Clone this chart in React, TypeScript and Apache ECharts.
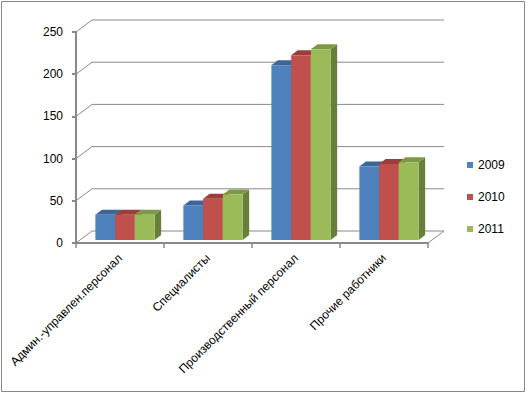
import React, { useEffect, useRef } from "react";
import * as echarts from "echarts";

const categories = [
  "Админ.-управлен.персонал",
  "Специалисты",
  "Производственный персонал",
  "Прочие работники",
];
const years = ["2009", "2010", "2011"];
const values2009 = [30, 41, 207, 87];
const values2010 = [30, 49, 219, 90];
const values2011 = [30, 54, 226, 92];
const yTicks = [0, 50, 100, 150, 200, 250];

const fronts = ["#4F81BD", "#C0504D", "#9BBB59"];
const tops = ["#3D6698", "#9A3E3C", "#7C9A45"];
const sides = ["#365A87", "#873634", "#677F38"];

const FONT = "'Liberation Sans', Arial, sans-serif";
const GRID_COLOR = "#898989";
const DEPTH_X = 16;
const DEPTH_Y = 12;

function makeBarRender(k: number) {
  return (params: any, api: any) => {
    const idx = api.value(0);
    const v = api.value(1);
    const c = api.coord([idx, v]);
    const c0 = api.coord([idx, 0]);
    const band = api.size([1, 0])[0];
    const w = band * 0.2245;
    const shift = band * 0.057;
    const x0 = c[0] + shift + (k - 1.5) * w;
    const x1 = x0 + w;
    const yt = c[1] - 3;
    const yb = c0[1] - 3;
    const dx = 6.5;
    const dy = 5;
    return {
      type: "group",
      children: [
        {
          type: "polygon",
          shape: { points: [[x1, yt], [x1 + dx, yt - dy], [x1 + dx, yb - dy], [x1, yb]] },
          style: { fill: sides[k] },
        },
        {
          type: "polygon",
          shape: { points: [[x0, yt], [x1, yt], [x1 + dx, yt - dy], [x0 + dx, yt - dy]] },
          style: { fill: tops[k] },
        },
        {
          type: "rect",
          shape: { x: x0, y: yt, width: w, height: yb - yt },
          style: { fill: fronts[k] },
        },
      ],
    };
  };
}

function wallRender(params: any, api: any) {
  const v = api.value(1);
  const cs = params.coordSys;
  const y = api.coord([0, v])[1];
  const children: any[] = [
    {
      type: "polyline",
      shape: {
        points: [
          [cs.x, y],
          [cs.x + DEPTH_X, y - DEPTH_Y],
          [cs.x + cs.width + DEPTH_X, y - DEPTH_Y],
        ],
      },
      style: { stroke: GRID_COLOR, lineWidth: 1, fill: null },
    },
  ];
  if (v === 0) {
    children.push({
      type: "line",
      shape: { x1: cs.x + cs.width, y1: y, x2: cs.x + cs.width + DEPTH_X, y2: y - DEPTH_Y },
      style: { stroke: GRID_COLOR, lineWidth: 1 },
    });
  }
  return { type: "group", children };
}

export default function App() {
  const ref = useRef<HTMLDivElement>(null);
  useEffect(() => {
    if (!ref.current) return;
    const chart = echarts.init(ref.current, null, { renderer: "svg" });
    const seriesValues = [values2009, values2010, values2011];
    chart.setOption({
      animation: false,
      backgroundColor: "#ffffff",
      textStyle: { fontFamily: FONT },
      graphic: [
        {
          type: "rect",
          shape: { x: 1.5, y: 1.5, width: 523, height: 390 },
          style: { fill: null, stroke: "#878787", lineWidth: 1 },
          z: 100,
        },
      ],
      grid: { left: 76, top: 32, width: 352, height: 211 },
      legend: {
        orient: "vertical",
        left: 462,
        top: 154,
        itemWidth: 6,
        itemHeight: 6,
        itemGap: 20,
        selectedMode: false,
        textStyle: { fontSize: 12, color: "#000", fontFamily: FONT },
        data: years.map((y) => ({ name: y, icon: "rect" })),
      },
      xAxis: {
        type: "category",
        data: categories,
        boundaryGap: true,
        axisLine: { lineStyle: { color: GRID_COLOR, width: 2 } },
        axisTick: { show: true, length: 5, lineStyle: { color: GRID_COLOR, width: 1.5 } },
        axisLabel: {
          interval: 0,
          rotate: 45,
          margin: 13,
          fontSize: 12,
          color: "#000",
          fontFamily: FONT,
        },
        splitLine: { show: false },
      },
      yAxis: {
        type: "value",
        min: 0,
        max: 250,
        interval: 50,
        axisLine: { show: true, lineStyle: { color: GRID_COLOR, width: 2 } },
        axisTick: { show: true, length: 4, lineStyle: { color: GRID_COLOR, width: 2 } },
        axisLabel: { margin: 13, fontSize: 12, color: "#000", fontFamily: FONT },
        splitLine: { show: false },
      },
      series: [
        {
          type: "custom",
          name: "wall",
          renderItem: wallRender,
          data: yTicks.map((v) => [0, v]),
          encode: { x: 0, y: 1 },
          silent: true,
          z: 1,
        },
        ...years.map((y, k) => ({
          type: "custom",
          name: y,
          renderItem: makeBarRender(k),
          data: seriesValues[k].map((v, i) => [i, v]),
          encode: { x: 0, y: 1 },
          itemStyle: { color: fronts[k] },
          z: 2,
        })),
      ],
    });
    return () => chart.dispose();
  }, []);
  return (
    <div
      ref={ref}
      style={{ position: "absolute", left: 0, top: 0, width: 527, height: 394, background: "#fff" }}
    />
  );
}
